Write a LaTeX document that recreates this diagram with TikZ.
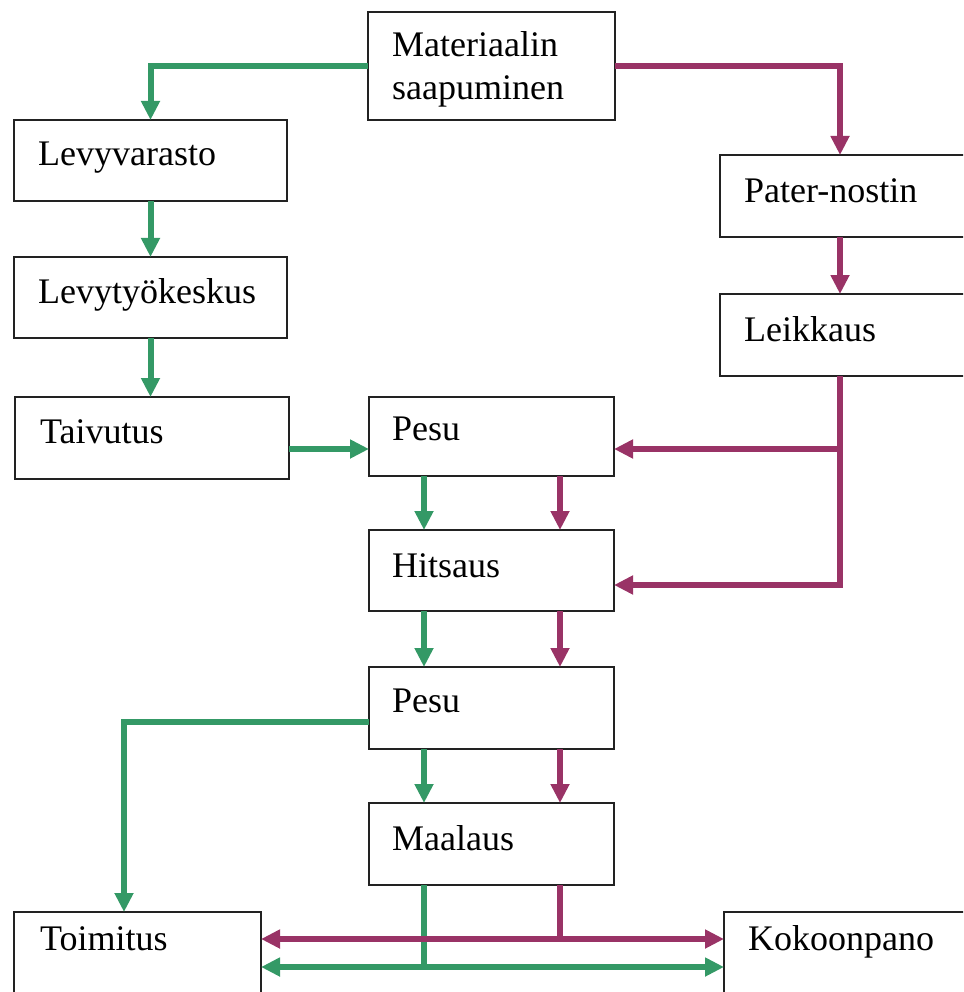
\documentclass[tikz,border=0pt]{standalone}
\usepackage{fontspec}
\setmainfont{Liberation Serif}
\usetikzlibrary{arrows.meta,calc}
\definecolor{flowgreen}{RGB}{52,153,102}
\definecolor{flowplum}{RGB}{153,51,102}
\definecolor{boxline}{RGB}{34,34,34}
\tikzset{
  stage/.style={draw=boxline, line width=1.6pt, fill=white, rectangle,
    inner sep=0pt, outer sep=0pt, anchor=north west},
  label text/.style={anchor=base west, inner sep=0pt, font=\fontsize{36}{40}\selectfont},
  flow/.style={line width=6pt, line join=miter},
  gflow/.style={flow, draw=flowgreen},
  pflow/.style={flow, draw=flowplum},
  tip/.style={-{Triangle[length=19pt,width=18pt]}},
  bothtips/.style={{Triangle[length=19pt,width=18pt]}-{Triangle[length=19pt,width=18pt]}},
}
\newcommand{\stagebox}[5]{%
  \node[stage, minimum width=#4pt, minimum height=#5pt] (#1) at (#2,#3) {};}
\begin{document}
\begin{tikzpicture}[x=1pt,y=-1pt]
\useasboundingbox (0,0) rectangle (963,992);
\clip (0,0) rectangle (963,992);

% process stages
\stagebox{mat}{368}{12}{247}{108}
\stagebox{lv}{14}{120}{273}{81}
\stagebox{lk}{14}{257}{273}{81}
\stagebox{ta}{15}{397}{274}{82}
\stagebox{pn}{720}{155}{260}{82}
\stagebox{le}{720}{294}{260}{82}
\stagebox{pa}{369}{397}{245}{79}
\stagebox{hi}{369}{530}{245}{81}
\stagebox{pb}{369}{667}{245}{82}
\stagebox{ma}{369}{803}{245}{82}
\stagebox{to}{14}{912}{247}{100}
\stagebox{ko}{724}{912}{260}{100}

% stage names
\node[label text] (tmat1) at (392,57) {Materiaalin};
\node[label text] (tmat2) at (392,100) {saapuminen};
\node[label text] (tlv) at (38,166) {Levyvarasto};
\node[label text] (tlk) at (38,303) {Levytyökeskus};
\node[label text] (tta) at (40,443) {Taivutus};
\node[label text] (tpn) at (744,203) {Pater-nostin};
\node[label text] (tle) at (744,341) {Leikkaus};
\node[label text] (tpa) at (392,440) {Pesu};
\node[label text] (thi) at (392,577) {Hitsaus};
\node[label text] (tpb) at (392,712) {Pesu};
\node[label text] (tma) at (392,850) {Maalaus};
\node[label text] (tto) at (40,950) {Toimitus};
\node[label text] (tko) at (748,950) {Kokoonpano};

% lanes and junctions
\coordinate (gx) at (424,0);
\coordinate (px) at (560,0);
\coordinate (rx) at (840,0);
\coordinate (j1) at (840,449);
\coordinate (j2) at (840,585);
\coordinate (dl) at (124,722);
\coordinate (gy) at (424,967);
\coordinate (py) at (560,939);

% green route
\draw[gflow, tip] (mat.west) -| (lv.north);
\draw[gflow, tip] (lv.south) -- (lk.north);
\draw[gflow, tip] (lk.south) -- (lk.south |- ta.north);
\draw[gflow, tip] (ta.east |- j1) -- (pa.west |- j1);
\draw[gflow, tip] (pa.south -| gx) -- (hi.north -| gx);
\draw[gflow, tip] (hi.south -| gx) -- (pb.north -| gx);
\draw[gflow, tip] (pb.south -| gx) -- (ma.north -| gx);
\draw[gflow, tip] (pb.west |- dl) -- (dl) -- (to.north -| dl);
\draw[gflow] (ma.south -| gx) -- (gy);
\draw[gflow, bothtips] (to.east |- gy) -- (ko.west |- gy);

% plum route
\draw[pflow, tip] (mat.east) -| (pn.north -| rx);
\draw[pflow, tip] (pn.south -| rx) -- (le.north -| rx);
\draw[pflow, tip] (le.south -| rx) -- (j2) -- (hi.east |- j2);
\draw[pflow, tip] (j1) -- (pa.east |- j1);
\draw[pflow, tip] (pa.south -| px) -- (hi.north -| px);
\draw[pflow, tip] (hi.south -| px) -- (pb.north -| px);
\draw[pflow, tip] (pb.south -| px) -- (ma.north -| px);
\draw[pflow] (ma.south -| px) -- (py);
\draw[pflow, bothtips] (to.east |- py) -- (ko.west |- py);
\end{tikzpicture}
\end{document}
